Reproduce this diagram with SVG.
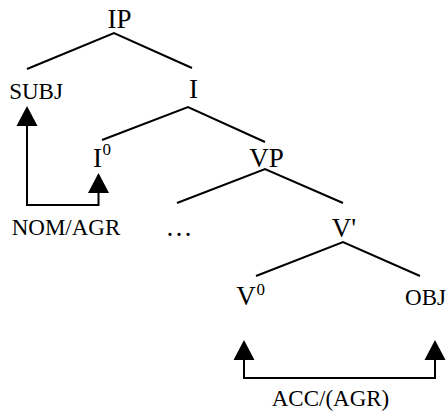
<svg xmlns="http://www.w3.org/2000/svg" width="448" height="416" viewBox="0 0 448 416">
<style>
  .lbl { font-family: "Liberation Serif", "Times New Roman", serif; fill: #000; text-anchor: middle; }
  .big { font-size: 27px; }
  .small { font-size: 23px; }
  .sup { font-size: 17px; text-anchor: start; }
  .edge { stroke: #000; stroke-width: 2; fill: none; }
  .link { stroke: #000; stroke-width: 2; fill: none; stroke-linejoin: miter; marker-start: url(#head); marker-end: url(#head); }
</style>
<defs>
  <marker id="head" markerUnits="userSpaceOnUse" viewBox="0 -11 20 22" refX="0" refY="0" markerWidth="20" markerHeight="22" orient="auto-start-reverse">
    <path d="M0,-10.5 L20,0 L0,10.5 z" fill="#000"/>
  </marker>
</defs>
<rect width="448" height="416" fill="#fff"/>
<g id="connectors">
  <path class="edge" d="M27,69 L114,33 L192,68"/>
  <path class="edge" d="M102,140 L188,107 L265,142"/>
  <path class="edge" d="M177,203 L265,169 L343,203"/>
  <path class="edge" d="M256,276 L343,242 L420,276"/>
  <path class="link" d="M98.5,193 V205 H27 V126"/>
  <path class="link" d="M244,360 V378 H435 V360"/>
</g>
<g id="IP"><text class="lbl big" x="119.5" y="28">IP</text></g>
<g id="SUBJ"><text class="lbl small" x="36" y="99">SUBJ</text></g>
<g id="I"><text class="lbl big" x="193.5" y="98">I</text></g>
<g id="I0"><text class="lbl big" x="97.5" y="167">I</text><text class="lbl sup" x="102.5" y="155">0</text></g>
<g id="VP"><text class="lbl big" x="266.5" y="167">VP</text></g>
<g id="dots"><text class="lbl big" x="179" y="236">…</text></g>
<g id="Vbar"><text class="lbl big" x="344" y="237">V'</text></g>
<g id="V0"><text class="lbl big" x="246" y="305">V</text><text class="lbl sup" x="256.5" y="295">0</text></g>
<g id="OBJ"><text class="lbl small" x="425.5" y="305">OBJ</text></g>
<g id="NOMAGR"><text class="lbl small" x="66" y="235">NOM/AGR</text></g>
<g id="ACCAGR"><text class="lbl small" x="330.5" y="406">ACC/(AGR)</text></g>
</svg>
